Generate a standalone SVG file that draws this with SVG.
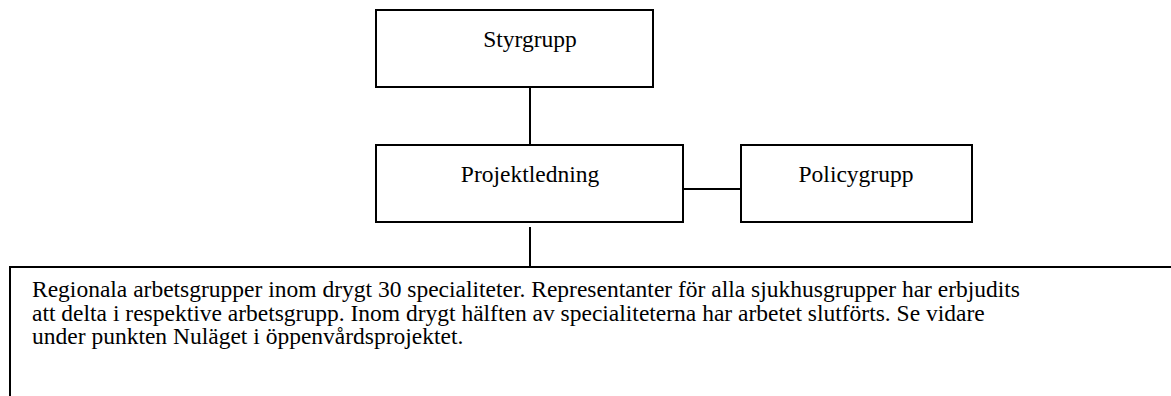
<svg xmlns="http://www.w3.org/2000/svg" width="1171" height="396" viewBox="0 0 1171 396">
  <style>
    .box { fill: #ffffff; stroke: #000000; stroke-width: 2; }
    .wire { fill: none; stroke: #000000; stroke-width: 2; }
    .label { font-family: "Liberation Serif", "Times New Roman", serif; font-size: 23.5px; fill: #000000; }
  </style>
  <rect width="1171" height="396" fill="#ffffff"/>

  <g id="connectors">
    <line class="wire" x1="530" y1="87" x2="530" y2="145"/>
    <line class="wire" x1="683" y1="189" x2="741" y2="189"/>
    <line class="wire" x1="530" y1="227" x2="530" y2="267"/>
  </g>

  <g id="styrgrupp">
    <rect class="box" x="376" y="10" width="277" height="77"/>
    <text class="label" x="530" y="47" text-anchor="middle">Styrgrupp</text>
  </g>

  <g id="projektledning">
    <rect class="box" x="376" y="145" width="307" height="77"/>
    <text class="label" x="530" y="182" text-anchor="middle">Projektledning</text>
  </g>

  <g id="policygrupp">
    <rect class="box" x="741" y="145" width="231" height="77"/>
    <text class="label" x="856" y="182" text-anchor="middle">Policygrupp</text>
  </g>

  <g id="arbetsgrupper">
    <rect class="box" x="10" y="267" width="1200" height="160"/>
    <text class="label" x="32">
      <tspan x="32" y="297">Regionala arbetsgrupper inom drygt 30 specialiteter. Representanter för alla sjukhusgrupper har erbjudits</tspan>
      <tspan x="32" y="320.5">att delta i respektive arbetsgrupp. Inom drygt hälften av specialiteterna har arbetet slutförts. Se vidare</tspan>
      <tspan x="32" y="344">under punkten Nuläget i öppenvårdsprojektet.</tspan>
    </text>
  </g>
</svg>
